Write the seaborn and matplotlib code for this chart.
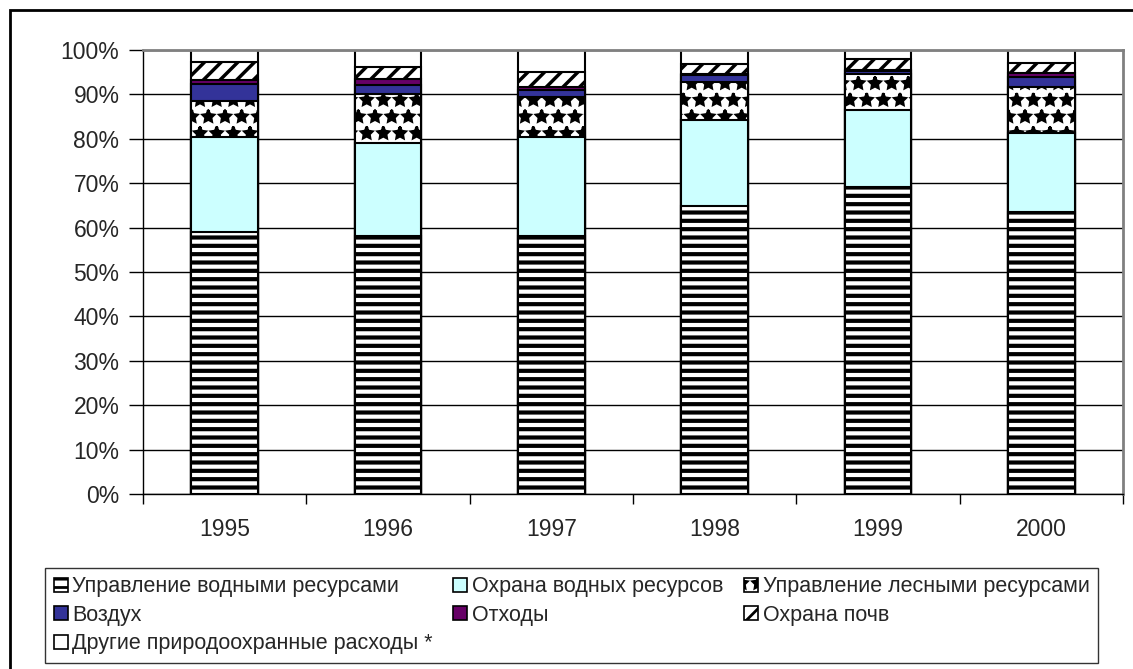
import numpy as np
import pandas as pd
import matplotlib
matplotlib.use("Agg")
import matplotlib.pyplot as plt
import matplotlib.patches as mpatches
import seaborn as sns

years = ["1995", "1996", "1997", "1998", "1999", "2000"]

# shares of each expense group, % of total
water_mgmt = [59.0, 58.1, 58.1, 64.9, 69.2, 63.5]
water_prot = [21.4, 21.0, 22.3, 19.3, 17.3, 17.8]
forest = [8.2, 11.1, 9.1, 8.5, 8.1, 10.4]
air = [3.7, 1.9, 1.6, 1.7, 0.7, 2.2]
waste = [1.0, 1.4, 0.6, 0.3, 0.3, 1.0]
soil = [4.0, 2.7, 3.4, 2.1, 2.3, 2.2]
other = [2.7, 3.8, 4.9, 3.2, 2.1, 2.9]

labels = ["Управление водными ресурсами", "Охрана водных ресурсов",
          "Управление лесными ресурсами", "Воздух", "Отходы",
          "Охрана почв", "Другие природоохранные расходы *"]
series = [water_mgmt, water_prot, forest, air, waste, soil, other]

# face colour, hatch, hatch line width
styles = [("white", "--", 3.0),
          ("#CCFFFF", None, 1.0),
          ("white", "*", 2.0),
          ("#333399", None, 1.0),
          ("#660066", None, 1.0),
          ("white", "//", 2.5),
          ("white", None, 1.0)]

sns.set_style("white")
plt.rcParams["font.family"] = ["Liberation Sans", "DejaVu Sans"]

W, H = 1133, 669
fig = plt.figure(figsize=(W / 100, H / 100), dpi=100)
ax = fig.add_axes([143 / W, (H - 494) / H, (1123 - 143) / W, (494 - 50) / H])

df = pd.DataFrame(dict(zip(labels, series)), index=years)
cum = df.cumsum(axis=1)

handles = {}
# draw from the top layer down so each lower stack covers the one above
for i in range(len(labels) - 1, -1, -1):
    face, hatch, hlw = styles[i]
    plt.rcParams["hatch.linewidth"] = hlw
    n_before = len(ax.patches)
    sns.barplot(x=years, y=cum[labels[i]].values, color=face, saturation=1,
                hatch=hatch, edgecolor="black", linewidth=1.5, width=0.41, ax=ax)
    for p in ax.patches[n_before:]:
        p.set_facecolor(face)
        if hasattr(p, "set_hatch_linewidth"):
            p.set_hatch_linewidth(hlw)
    h = mpatches.Patch(facecolor=face, edgecolor="black", hatch=hatch, linewidth=1.2)
    if hasattr(h, "set_hatch_linewidth"):
        h.set_hatch_linewidth(min(hlw, 2.0))
    handles[labels[i]] = h
plt.rcParams["hatch.linewidth"] = 2.0

ax.set_ylim(0, 100)
ax.set_xlim(-0.5, len(years) - 0.5)
ax.set_yticks(np.arange(0, 101, 10))
ax.set_yticklabels([f"{v}%" for v in range(0, 101, 10)])
ax.yaxis.grid(True, color="black", linewidth=1)
ax.set_axisbelow(True)
ax.set_xlabel("")
ax.set_ylabel("")

ax.set_xticks(np.arange(-0.5, len(years)), minor=True)
ax.tick_params(axis="x", which="major", length=0, pad=17, labelsize=16.5)
ax.tick_params(axis="x", which="minor", length=7, width=1, color="black", direction="out", bottom=True)
ax.tick_params(axis="y", length=10, width=1, color="black", direction="out", pad=7, labelsize=16.5, left=True)

for s in ["left", "bottom"]:
    ax.spines[s].set_color("black")
    ax.spines[s].set_linewidth(1)
for s in ["top", "right"]:
    ax.spines[s].set_color("#808080")
    ax.spines[s].set_linewidth(2)

# legend filled row by row like the original (matplotlib fills by column)
order = [labels[0], labels[3], labels[6], labels[1], labels[4], labels[2], labels[5]]
leg = fig.legend([handles[k] for k in order], order, ncol=3, mode="expand",
                 loc="lower left", bbox_to_anchor=(45 / W, 6 / H, (1098 - 45) / W, 98 / H),
                 fontsize=15.5, frameon=True, fancybox=False, edgecolor="black",
                 borderpad=0.4, labelspacing=0.35, handlelength=0.65, handleheight=0.65,
                 handletextpad=0.2, columnspacing=0.0, borderaxespad=0)
leg.get_frame().set_linewidth(1)

# outer chart border
fig.patches.append(mpatches.Rectangle((10 / W, -0.1), 1.2, 1.1 - 10 / H, fill=False,
                                      edgecolor="black", linewidth=2, transform=fig.transFigure))

fig.savefig("out.png", dpi=100)
